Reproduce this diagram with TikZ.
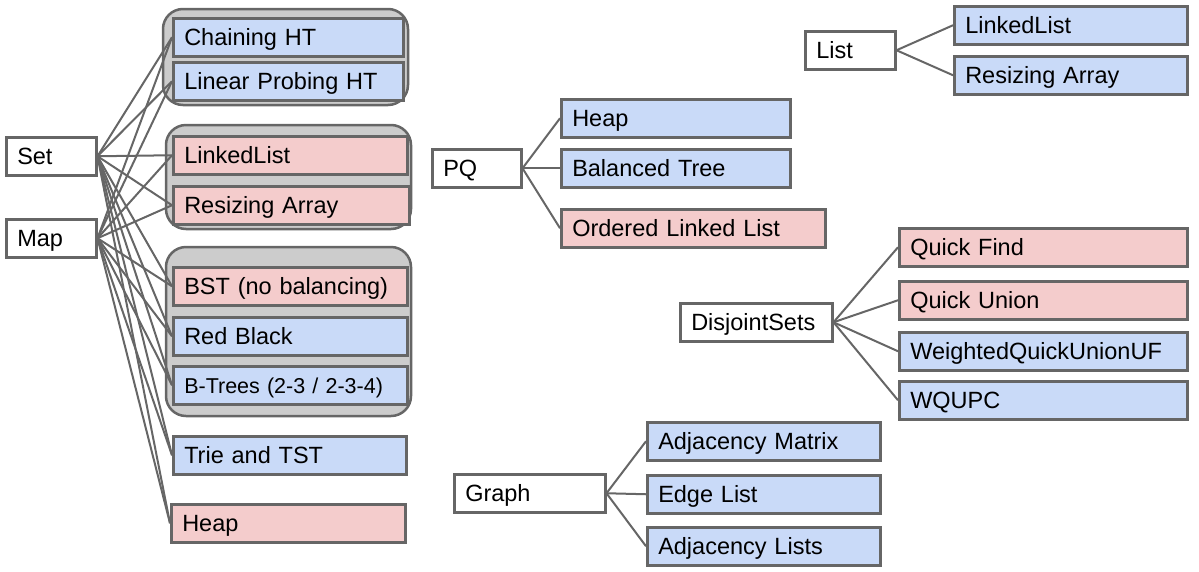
\documentclass[tikz,border=0pt]{standalone}
\usepackage{fontspec}
\setmainfont{Liberation Sans}
\definecolor{edge}{HTML}{666666}
\definecolor{implblue}{HTML}{C9DAF8}
\definecolor{implred}{HTML}{F4CCCC}
\definecolor{groupgray}{HTML}{CCCCCC}
\tikzset{
  item/.style={draw=edge, line width=2.5, anchor=north west, inner xsep=11, inner ysep=0,
    minimum height=38, align=left, text width=#1, text height=20.5, text depth=3.5,
    font=\fontsize{23.5}{27}\selectfont},
  adt/.style={item=#1, fill=white},
  blueitem/.style={item=#1, fill=implblue},
  reditem/.style={item=#1, fill=implred},
  group/.style={draw=edge, line width=2.5, fill=groupgray, rounded corners=20},
  link/.style={draw=edge, line width=2}
}
\begin{document}
\begin{tikzpicture}[x = 1pt, y = -1pt]
\useasboundingbox (0,0) rectangle (1199,571);
% grey groups
\draw[group] (163,9) rectangle (408,105);
\draw[group] (166,125) rectangle (411,229);
\draw[group] (166,247) rectangle (411,416);
% Set / Map
\node[adt=68] (set) at (5,136) {Set};
\node[adt=68] (map) at (5,218) {Map};
\node[blueitem=208] (cht) at (172,17) {Chaining HT};
\node[blueitem=208] (lpht) at (172,61) {Linear Probing HT};
\node[reditem=212] (sll) at (172,135) {LinkedList};
\node[reditem=214] (sra) at (172,185) {Resizing Array};
\node[reditem=212] (bst) at (172,266) {BST (no balancing)};
\node[blueitem=212] (rb) at (172,316) {Red Black};
\node[blueitem=212, font=\fontsize{21.5}{27}\selectfont] (btree) at (172,365) {\mbox{B-Trees (2-3 / 2-3-4)}};
\node[blueitem=211] (tst) at (172,435) {Trie and TST};
\node[reditem=212] (sheap) at (170,503) {Heap};
% PQ
\node[adt=67] (pq) at (431,148) {PQ};
\node[blueitem=207] (pqheap) at (560,98) {Heap};
\node[blueitem=207] (baltree) at (560,148) {Balanced Tree};
\node[reditem=242] (oll) at (560,208) {Ordered Linked List};
% List
\node[adt=68] (list) at (804,30) {List};
\node[blueitem=211] (lll) at (953,5) {LinkedList};
\node[blueitem=211] (lra) at (953,55) {Resizing Array};
% DisjointSets
\node[adt=130] (ds) at (679,302) {DisjointSets};
\node[reditem=266] (qf) at (898,227) {Quick Find};
\node[reditem=266] (qu) at (898,280) {Quick Union};
\node[blueitem=266] (wquf) at (898,331) {WeightedQuickUnionUF};
\node[blueitem=266] (wqupc) at (898,380) {WQUPC};
% Graph
\node[adt=129] (graph) at (453,473) {Graph};
\node[blueitem=211] (adjmat) at (646,421) {Adjacency Matrix};
\node[blueitem=211] (edgelist) at (646,474) {Edge List};
\node[blueitem=211] (adjlists) at (646,526) {Adjacency Lists};
% connectors
\foreach \t in {cht,lpht,sll,sra,bst,rb,btree,tst,sheap} {
  \draw[link] (set.east) -- (\t.west);
  \draw[link] (map.east) -- (\t.west);
}
\foreach \t in {pqheap,baltree,oll} \draw[link] (pq.east) -- (\t.west);
\foreach \t in {lll,lra} \draw[link] (list.east) -- (\t.west);
\foreach \t in {qf,qu,wquf,wqupc} \draw[link] (ds.east) -- (\t.west);
\foreach \t in {adjmat,edgelist,adjlists} \draw[link] (graph.east) -- (\t.west);
\end{tikzpicture}
\end{document}
